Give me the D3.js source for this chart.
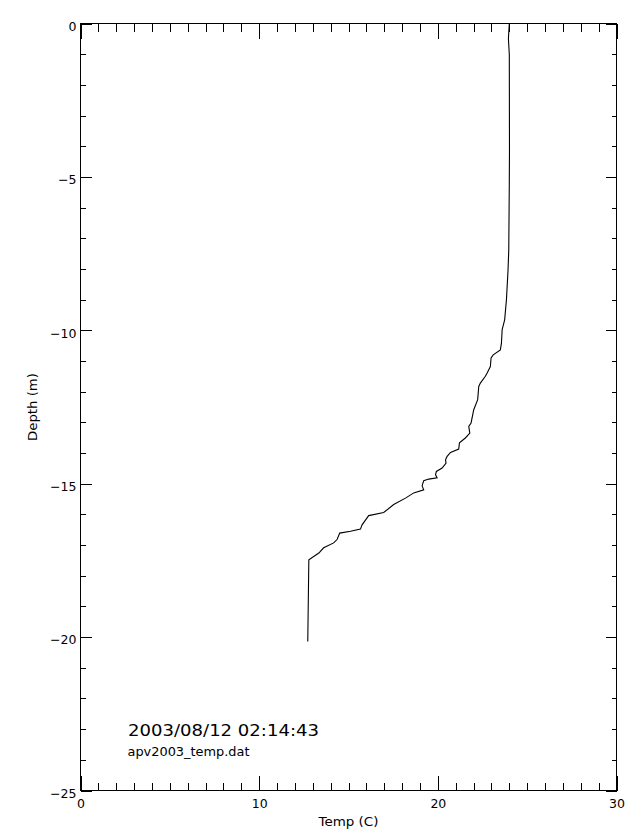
<!DOCTYPE html>
<html>
<head>
<meta charset="utf-8">
<script src="https://cdn.jsdelivr.net/npm/d3@7/dist/d3.min.js"></script>
<style>
  html, body { margin: 0; padding: 0; background: #fff; }
  svg { display: block; }
  text { font-family: "DejaVu Sans", sans-serif; fill: #000; }
</style>
</head>
<body>
<svg id="chart" width="640" height="840"></svg>
<script>
// Temperature profile
const temps = [24.0, 23.95, 24.0, 24.01, 24.0, 23.97, 23.93, 23.84, 23.74, 23.6, 23.56, 23.5,
  23.1, 22.98, 22.94, 22.76, 22.66, 22.38, 22.29, 22.23, 22.01, 21.86, 21.73, 21.79,
  21.54, 21.21, 21.17, 20.71, 20.52, 20.43, 20.46, 20.24, 19.92, 19.87, 19.96, 19.49,
  19.21, 19.12, 19.21, 18.65, 18.19, 17.53, 16.97, 16.13, 15.76, 15.67, 15.11, 14.51,
  14.36, 14.17, 13.61, 13.34, 12.78, 12.72];
const depths = [0.0, -0.5, -1.0, -4.12, -5.2, -7.38, -8.03, -9.0, -9.66, -9.98, -10.42, -10.64,
  -10.8, -10.9, -11.18, -11.39, -11.5, -11.72, -11.83, -12.26, -12.59, -13.02, -13.13, -13.35,
  -13.51, -13.67, -13.87, -13.98, -14.11, -14.22, -14.33, -14.49, -14.6, -14.71, -14.81, -14.85,
  -14.9, -15.07, -15.2, -15.3, -15.47, -15.68, -15.94, -16.04, -16.34, -16.48, -16.55, -16.61,
  -16.82, -16.93, -17.09, -17.26, -17.48, -20.14];

const xMajor = [0, 10, 20, 30];
const xMinor = d3.range(0, 31, 1);
const yMajor = [0, -5, -10, -15, -20, -25];
const yMinor = d3.range(0, -26, -1);
const xTitle = "Temp (C)";
const yTitle = "Depth (m)";
const stampText = "2003/08/12 02:14:43";
const fileText = "apv2003_temp.dat";

const svg = d3.select("#chart");
const L = 80.5, R = 616.5, T = 23.5, B = 790.5;
const x = d3.scaleLinear().domain([0, 30]).range([L, R]);
const y = d3.scaleLinear().domain([0, -25]).range([T, B]);

function styleAxis(g) {
  g.select(".domain").remove();
  g.selectAll("line").attr("stroke", "#000").attr("shape-rendering", "crispEdges");
  g.selectAll("text").attr("font-family", "DejaVu Sans, sans-serif").attr("font-size", 12.5).attr("fill", "#000");
}

// bottom
svg.append("g").attr("transform", `translate(0,${B})`)
  .call(d3.axisBottom(x).tickValues(xMinor).tickSize(-8).tickSizeOuter(0).tickFormat(""))
  .call(styleAxis);
svg.append("g").attr("transform", `translate(0,${B})`)
  .call(d3.axisBottom(x).tickValues(xMajor).tickSize(-15).tickSizeOuter(0).tickPadding(9).tickFormat(d3.format("d")))
  .call(styleAxis);
// top
svg.append("g").attr("transform", `translate(0,${T})`)
  .call(d3.axisTop(x).tickValues(xMinor).tickSize(-8).tickSizeOuter(0).tickFormat(""))
  .call(styleAxis);
svg.append("g").attr("transform", `translate(0,${T})`)
  .call(d3.axisTop(x).tickValues(xMajor).tickSize(-15).tickSizeOuter(0).tickFormat(""))
  .call(styleAxis);
// left
svg.append("g").attr("transform", `translate(${L},0)`)
  .call(d3.axisLeft(y).tickValues(yMinor).tickSize(-5).tickSizeOuter(0).tickFormat(""))
  .call(styleAxis);
svg.append("g").attr("transform", `translate(${L},0)`)
  .call(d3.axisLeft(y).tickValues(yMajor).tickSize(-11).tickSizeOuter(0).tickPadding(4).tickFormat(d3.format("d")))
  .call(styleAxis)
  .selectAll("text").attr("dy", "0.55em");
// right
svg.append("g").attr("transform", `translate(${R},0)`)
  .call(d3.axisRight(y).tickValues(yMinor).tickSize(-5).tickSizeOuter(0).tickFormat(""))
  .call(styleAxis);
svg.append("g").attr("transform", `translate(${R},0)`)
  .call(d3.axisRight(y).tickValues(yMajor).tickSize(-11).tickSizeOuter(0).tickFormat(""))
  .call(styleAxis);

// frame
svg.append("rect").attr("x", L).attr("y", T).attr("width", R - L).attr("height", B - T)
  .attr("fill", "none").attr("stroke", "#000").attr("shape-rendering", "crispEdges");

// profile line
const pts = temps.map((t, i) => [t, depths[i]]);
svg.append("path").datum(pts)
  .attr("fill", "none").attr("stroke", "#000").attr("stroke-width", 1.1)
  .attr("d", d3.line().x(d => x(d[0])).y(d => y(d[1])));

// titles
svg.append("text").attr("x", (L + R) / 2).attr("y", 826).attr("text-anchor", "middle")
  .attr("font-size", 12.5).attr("textLength", 60).attr("lengthAdjust", "spacingAndGlyphs").text(xTitle);
svg.append("text").attr("transform", `translate(37,${(T + B) / 2}) rotate(-90)`).attr("text-anchor", "middle")
  .attr("font-size", 12.5).attr("textLength", 68).attr("lengthAdjust", "spacingAndGlyphs").text(yTitle);

svg.append("text").attr("x", 128).attr("y", 736).attr("font-size", 15.5)
  .attr("textLength", 191).attr("lengthAdjust", "spacingAndGlyphs").text(stampText);
svg.append("text").attr("x", 127.5).attr("y", 756).attr("font-size", 12)
  .attr("textLength", 122).attr("lengthAdjust", "spacingAndGlyphs").text(fileText);
</script>
</body>
</html>
